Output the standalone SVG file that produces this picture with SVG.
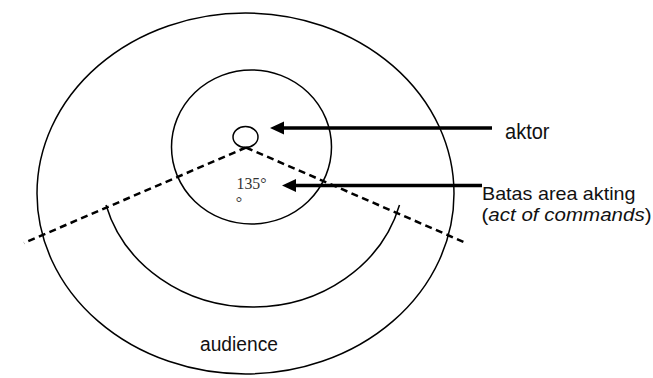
<svg xmlns="http://www.w3.org/2000/svg" width="653" height="378" viewBox="0 0 653 378">
  <style>
    .ln { fill: none; stroke: #000; stroke-width: 1.5; }
    .dash { fill: none; stroke: #000; stroke-width: 2.5; stroke-dasharray: 7 4.5; }
    .arr { stroke: #000; stroke-width: 3.5; fill: none; }
    .head { fill: #000; }
    .lbl { font-family: "Liberation Sans", Arial, sans-serif; fill: #111; }
    .deg { font-family: "Liberation Serif", "Times New Roman", serif; fill: #333; }
  </style>
  <rect width="653" height="378" fill="#fff"/>

  <g id="audience-area">
    <ellipse class="ln" cx="245.5" cy="193.5" rx="208.5" ry="180.5"/>
    <text class="lbl" x="200" y="351" font-size="20" textLength="78" lengthAdjust="spacingAndGlyphs">audience</text>
  </g>

  <g id="sight-lines">
    <path class="dash" d="M246,147.5 L24,243"/>
    <path class="dash" d="M246,147.5 L466,243"/>
  </g>

  <g id="audience-boundary">
    <path class="ln" stroke-width="1.8" d="M106,205 A152,138 0 0 0 399.5,205"/>
  </g>

  <g id="acting-area">
    <ellipse class="ln" cx="251.5" cy="147" rx="80" ry="77"/>
    <text class="deg" x="236.5" y="189.3" font-size="17" textLength="30" lengthAdjust="spacingAndGlyphs">135°</text>
    <text class="deg" x="235.8" y="207.5" font-size="16">°</text>
  </g>

  <g id="actor">
    <ellipse class="ln" cx="245.5" cy="137" rx="12.5" ry="10.5"/>
  </g>

  <g id="label-aktor">
    <text class="lbl" x="505" y="139.3" font-size="21.5" textLength="44.5" lengthAdjust="spacingAndGlyphs">aktor</text>
  </g>

  <g id="label-batas">
    <text class="lbl" x="482" y="200" font-size="19" textLength="153.5" lengthAdjust="spacingAndGlyphs">Batas area akting</text>
    <text class="lbl" x="481.5" y="221" font-size="19" textLength="170" lengthAdjust="spacingAndGlyphs">(<tspan font-style="italic">act of commands</tspan>)</text>
  </g>

  <g id="connectors">
    <line class="arr" x1="482" y1="185.5" x2="292" y2="185.5"/>
    <polygon class="head" points="282,185.5 296,179 296,192"/>
    <line class="arr" x1="492" y1="128" x2="280" y2="128"/>
    <polygon class="head" points="270,128 284,121.5 284,134.5"/>
  </g>
</svg>
